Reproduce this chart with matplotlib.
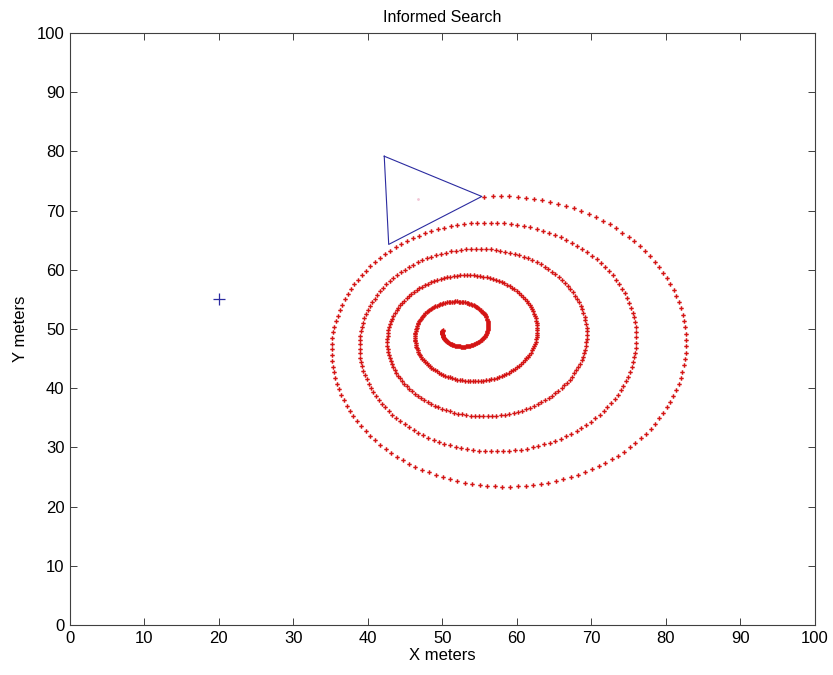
# Informed Search - spiral search path
import numpy as np
import matplotlib
matplotlib.use("Agg")
import matplotlib.pyplot as plt

plt.rcParams['font.family'] = ['Liberation Sans', 'DejaVu Sans']

# =========================
# 1. READINGS (data units)
# =========================
# extremes of each turn of the spiral, innermost turn first
spiral_right = [56.1, 62.7, 69.8, 74.9, 83.2]
spiral_left = [46.3, 42.7, 38.9, 35.3]
spiral_top = [54.6, 59.1, 63.5, 68.1, 72.5]
spiral_bottom = [47.1, 41.4, 35.3, 29.2, 23.3]
spiral_start = (50.1, 49.8)
spiral_end = (55.3, 72.4)
pts_per_turn = 144

# robot (triangle) and its centre, target cross
tri_x = [42.2, 42.8, 55.3, 42.2]
tri_y = [79.2, 64.3, 72.4, 79.2]
robot_c = (46.8, 72.0)
target = (20, 55)


# =========================
# 2. SPIRAL PATH
# =========================
# x = cx0 + cx1*a + s*(r0 + r1*a), y likewise; fit to the extremes
rows, vals = [], []
for k, v in enumerate(spiral_right):
    a = 2 * np.pi * k
    rows.append([1, a, 0, 0, 1, a]); vals.append(v)
for k, v in enumerate(spiral_left):
    a = 2 * np.pi * k + np.pi
    rows.append([1, a, 0, 0, -1, -a]); vals.append(v)
for k, v in enumerate(spiral_top):
    a = 2 * np.pi * k + np.pi / 2
    rows.append([0, 0, 1, a, 1, a]); vals.append(v)
for k, v in enumerate(spiral_bottom):
    a = 2 * np.pi * k - np.pi / 2
    rows.append([0, 0, 1, a, -1, -a]); vals.append(v)
cx0, cx1, cy0, cy1, r0, r1 = np.linalg.lstsq(np.array(rows), np.array(vals), rcond=None)[0]


def spiral(a):
    r = np.maximum(r0 + r1 * a, 0)
    return cx0 + cx1 * a + r * np.cos(a), cy0 + cy1 * a + r * np.sin(a)


def closest(pt, lo, hi):
    aa = np.linspace(lo, hi, 4000)
    xx, yy = spiral(aa)
    return aa[np.argmin((xx - pt[0])**2 + (yy - pt[1])**2)]


a_start = closest(spiral_start, -2 * np.pi, 0)
a_end = closest(spiral_end, 8 * np.pi, 9 * np.pi)
step = 2 * np.pi / pts_per_turn
ang = np.arange(a_start, a_end + step / 2, step)
sx, sy = spiral(ang)


# =========================
# 3. PLOT
# =========================
fig = plt.figure(figsize=(8.33, 6.75), dpi=100)
ax = fig.add_axes([0.084, 0.074, 0.894, 0.877])

ax.plot(sx, sy, linestyle='none', marker='P', markersize=3.2,
        markeredgewidth=0, color='#d41414')
ax.plot(tri_x, tri_y, color='#2b2ba0', linewidth=0.8)
ax.plot(robot_c[0], robot_c[1], linestyle='none', marker='.', markersize=2, color='#f2c6d6')
ax.plot(target[0], target[1], linestyle='none', marker='+', markersize=8,
        markeredgewidth=0.9, color='#2b2ba0')

ax.set_xlim(0, 100)
ax.set_ylim(0, 100)
ax.set_xticks(np.arange(0, 101, 10))
ax.set_yticks(np.arange(0, 101, 10))
ax.tick_params(direction='in', length=5, width=0.7, top=True, right=True,
               labelsize=12, color='#404040', pad=4)
for s in ax.spines.values():
    s.set_color('#404040')
    s.set_linewidth(0.8)

ax.set_xlabel("X meters", fontsize=12, labelpad=2)
ax.set_ylabel("Y meters", fontsize=12, labelpad=6)
ax.set_title("Informed Search", fontsize=11.5, pad=8)

fig.savefig("out.png", dpi=100)
